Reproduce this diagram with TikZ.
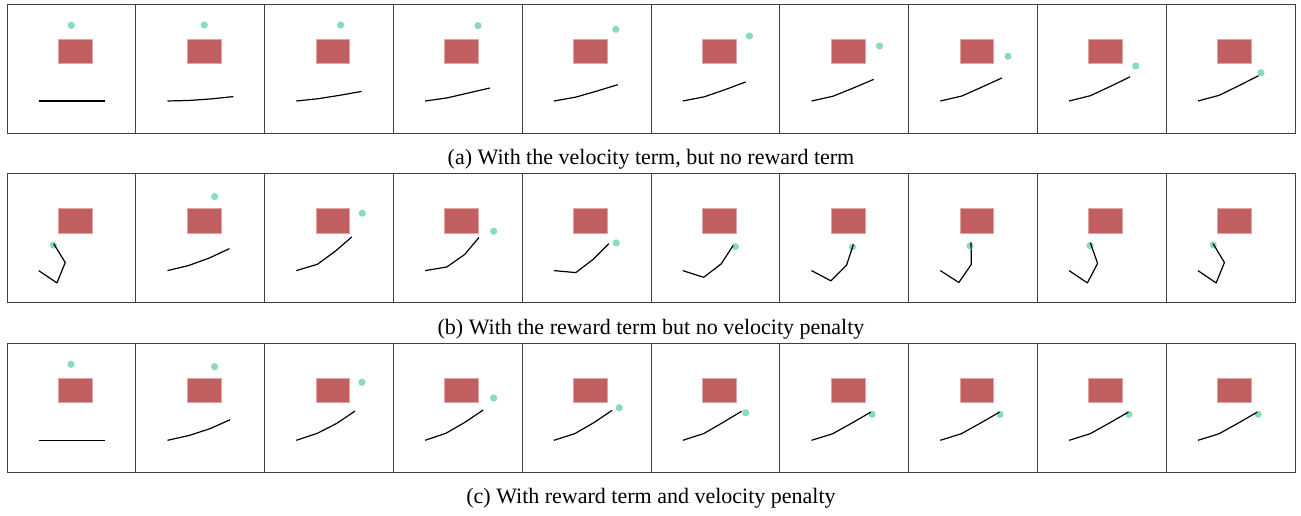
\documentclass[tikz,border=0pt]{standalone}
\usepackage{fontspec}
\setmainfont{Liberation Serif}
\definecolor{boxred}{RGB}{192,94,96}
\definecolor{goalgreen}{RGB}{136,220,188}

\begin{document}
\begin{tikzpicture}[x=0.5pt,y=-0.5pt,
    frame/.style={draw=black!75,line width=0.5pt},
    block/.style={fill=boxred,draw=boxred!55!white,line width=0.3pt},
    goal/.style={fill=goalgreen},
    arm/.style={black,line width=0.6pt,line join=round},
    caption/.style={anchor=base,font=\fontsize{11}{13}\selectfont}]

\useasboundingbox (0,0) rectangle (1301,515);

% each entry: panel, target x/y, then the three link angles
% row (a): velocity term only
\foreach \i/\tx/\ty/\a/\b/\c in {0/64.3/21.3/0/0/0, 1/68.5/21/-1.5/-4/-6,
    2/76/21/-6/-9/-10, 3/84.6/21.7/-8/-13/-13, 4/93.6/25.3/-10/-16/-17,
    5/98.4/32/-11/-19/-20.5, 6/99.7/42/-12.5/-22/-23, 7/99.4/52.3/-13/-24/-24.5,
    8/98.3/62/-14/-25/-26, 9/94.7/68.7/-15/-26/-27}{
  \begin{scope}[shift={(7+128.8*\i,4)}]
    \draw[frame] (0,0) rectangle (128.8,129);
    \filldraw[block] (51.3,35) rectangle (85,59.3);
    \fill[goal] (\tx,\ty) circle (3.6);
    \draw[arm] (31.7,97) -- ++(\a:22) -- ++(\b:22) -- ++(\c:22);
  \end{scope}
}

% row (b): reward term, no penalty
\foreach \i/\tx/\ty/\a/\b/\c in {0/46.3/71.6/34/-67.9/-121.4, 1/78.8/23/-13.6/-20/-25,
    2/97.7/39.6/-16.7/-36/-41, 3/100.3/57.6/-9.5/-35/-50, 4/94/69.3/5.2/-37.4/-45,
    5/84.4/73/17.7/-37.4/-57, 6/72.7/73.3/27.8/-45/-71.9, 7/61.4/72.3/32.7/-55.3/-90.8,
    8/52.6/72/34/-62.2/-109.3, 9/47/71.3/34/-67.9/-121}{
  \begin{scope}[shift={(7+128.8*\i,173.6)}]
    \draw[frame] (0,0) rectangle (128.8,129);
    \filldraw[block] (51.3,35) rectangle (85,59.3);
    \fill[goal] (\tx,\ty) circle (3.6);
    \draw[arm] (31.7,97) -- ++(\a:22) -- ++(\b:22) -- ++(\c:22);
  \end{scope}
}

% row (c): reward term and penalty
\foreach \i/\tx/\ty/\a/\b/\c in {0/64/21/0/0/0, 1/78.8/23.4/-12.6/-18/-24,
    2/97.3/39/-18.4/-27/-34, 3/100.3/54.7/-18.7/-30/-34, 4/97/64.4/-17.7/-30/-34,
    5/94.7/69.4/-17.7/-30/-31, 6/92.3/71/-17.2/-29/-30, 7/91.4/71/-17.4/-29/-30,
    8/91.6/71/-17.4/-29/-30, 9/92/71/-17.2/-29/-30}{
  \begin{scope}[shift={(7+128.8*\i,343.3)}]
    \draw[frame] (0,0) rectangle (128.8,129);
    \filldraw[block] (51.3,35) rectangle (85,59.3);
    \fill[goal] (\tx,\ty) circle (3.6);
    \draw[arm] (31.7,97) -- ++(\a:22) -- ++(\b:22) -- ++(\c:22);
  \end{scope}
}

% sub-captions
\node[caption] (capa) at (651,164.5) {(a) With the velocity term, but no reward term};
\node[caption] (capb) at (651,334) {(b) With the reward term but no velocity penalty};
\node[caption] (capc) at (651,503.5) {(c) With reward term and velocity penalty};

\end{tikzpicture}
\end{document}
